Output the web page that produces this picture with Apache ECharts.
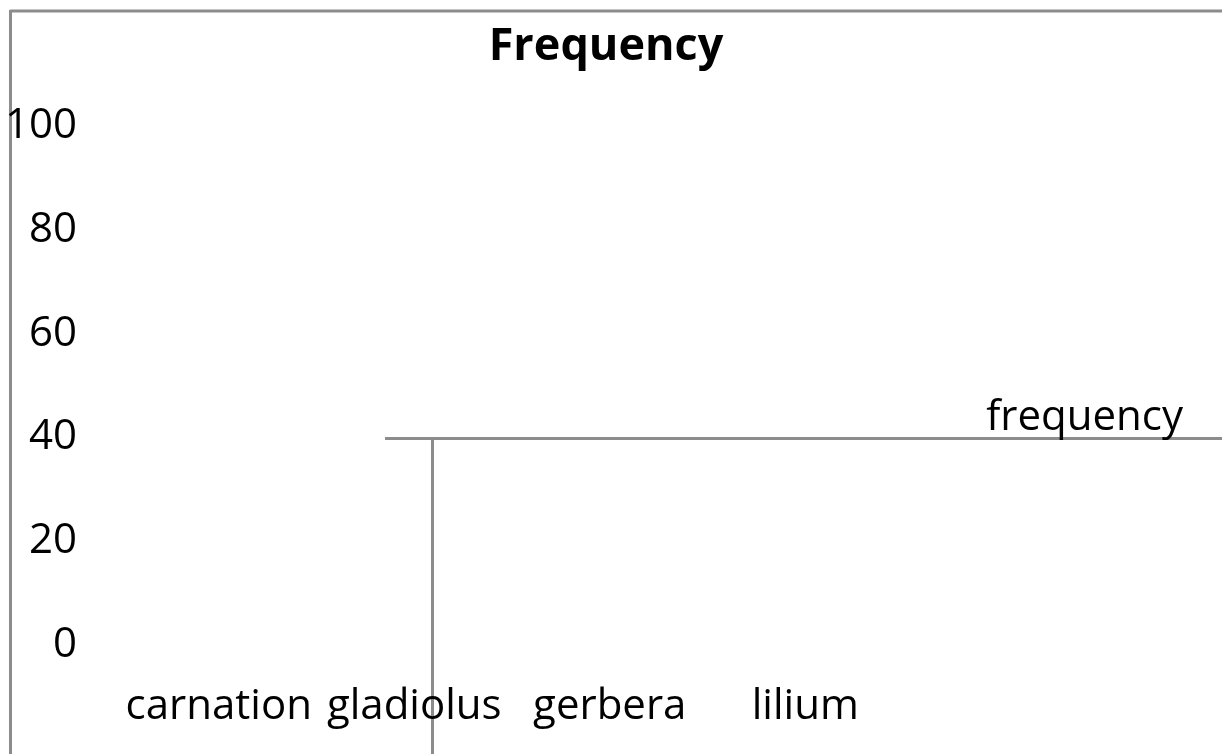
<!DOCTYPE html>
<html>
<head>
<meta charset="utf-8">
<script src="https://cdn.jsdelivr.net/npm/echarts@6/dist/echarts.min.js"></script>
<style>
  html, body { margin: 0; padding: 0; background: #fff; }
  #chart { width: 1222px; height: 754px; }
</style>
</head>
<body>
<div id="chart"></div>
<script>
// data
const categories = ['carnation', 'gladiolus', 'gerbera', 'lilium'];
const frequency = [null, null, null, null]; // no bars drawn in the picture
const yTicks = [0, 20, 40, 60, 80, 100];
const frequencyLevel = 40; // the grey line the series label sits on

const FONT = 'Open Sans';
const GREY = '#8c8c8c';

const chart = echarts.init(document.getElementById('chart'));

chart.setOption({
  backgroundColor: '#fff',
  animation: false,
  title: {
    text: 'Frequency',
    left: 601,
    textAlign: 'center',
    top: 20,
    textStyle: { fontFamily: FONT, fontSize: 45, fontWeight: 'bold', color: '#000' }
  },
  legend: {
    right: 34,
    top: 392,
    icon: 'none',
    itemWidth: 0,
    itemGap: 0,
    data: ['frequency'],
    textStyle: { fontFamily: FONT, fontSize: 42, color: '#000' }
  },
  grid: { left: 121, right: 319, top: 126, bottom: 109 },
  xAxis: {
    type: 'category',
    data: categories,
    axisLine: { show: false },
    axisTick: { show: false },
    axisLabel: { margin: 41, interval: 0, color: '#000', fontFamily: FONT, fontSize: 42 }
  },
  yAxis: {
    type: 'value',
    min: yTicks[0],
    max: yTicks[yTicks.length - 1],
    interval: yTicks[1] - yTicks[0],
    splitLine: { show: false },
    axisLine: { show: false },
    axisTick: { show: false },
    axisLabel: { margin: 44, color: '#000', fontFamily: FONT, fontSize: 42 }
  },
  series: [{
    name: 'frequency',
    type: 'bar',
    data: frequency,
    itemStyle: { color: GREY }
  }]
});

// frame and leftover plot lines, the level line placed through the y axis
const levelY = chart.convertToPixel({ yAxisIndex: 0 }, frequencyLevel) + 1;
chart.setOption({
  graphic: [
    { type: 'line', shape: { x1: 10, y1: 11, x2: 1222, y2: 11 }, style: { stroke: GREY, lineWidth: 3 } },
    { type: 'line', shape: { x1: 10.5, y1: 10, x2: 10.5, y2: 754 }, style: { stroke: GREY, lineWidth: 3 } },
    { type: 'line', shape: { x1: 385, y1: levelY, x2: 1222, y2: levelY }, style: { stroke: GREY, lineWidth: 3 } },
    { type: 'line', shape: { x1: 432.5, y1: levelY, x2: 432.5, y2: 754 }, style: { stroke: GREY, lineWidth: 3 } }
  ]
});

window.addEventListener('resize', () => chart.resize());
</script>
</body>
</html>
